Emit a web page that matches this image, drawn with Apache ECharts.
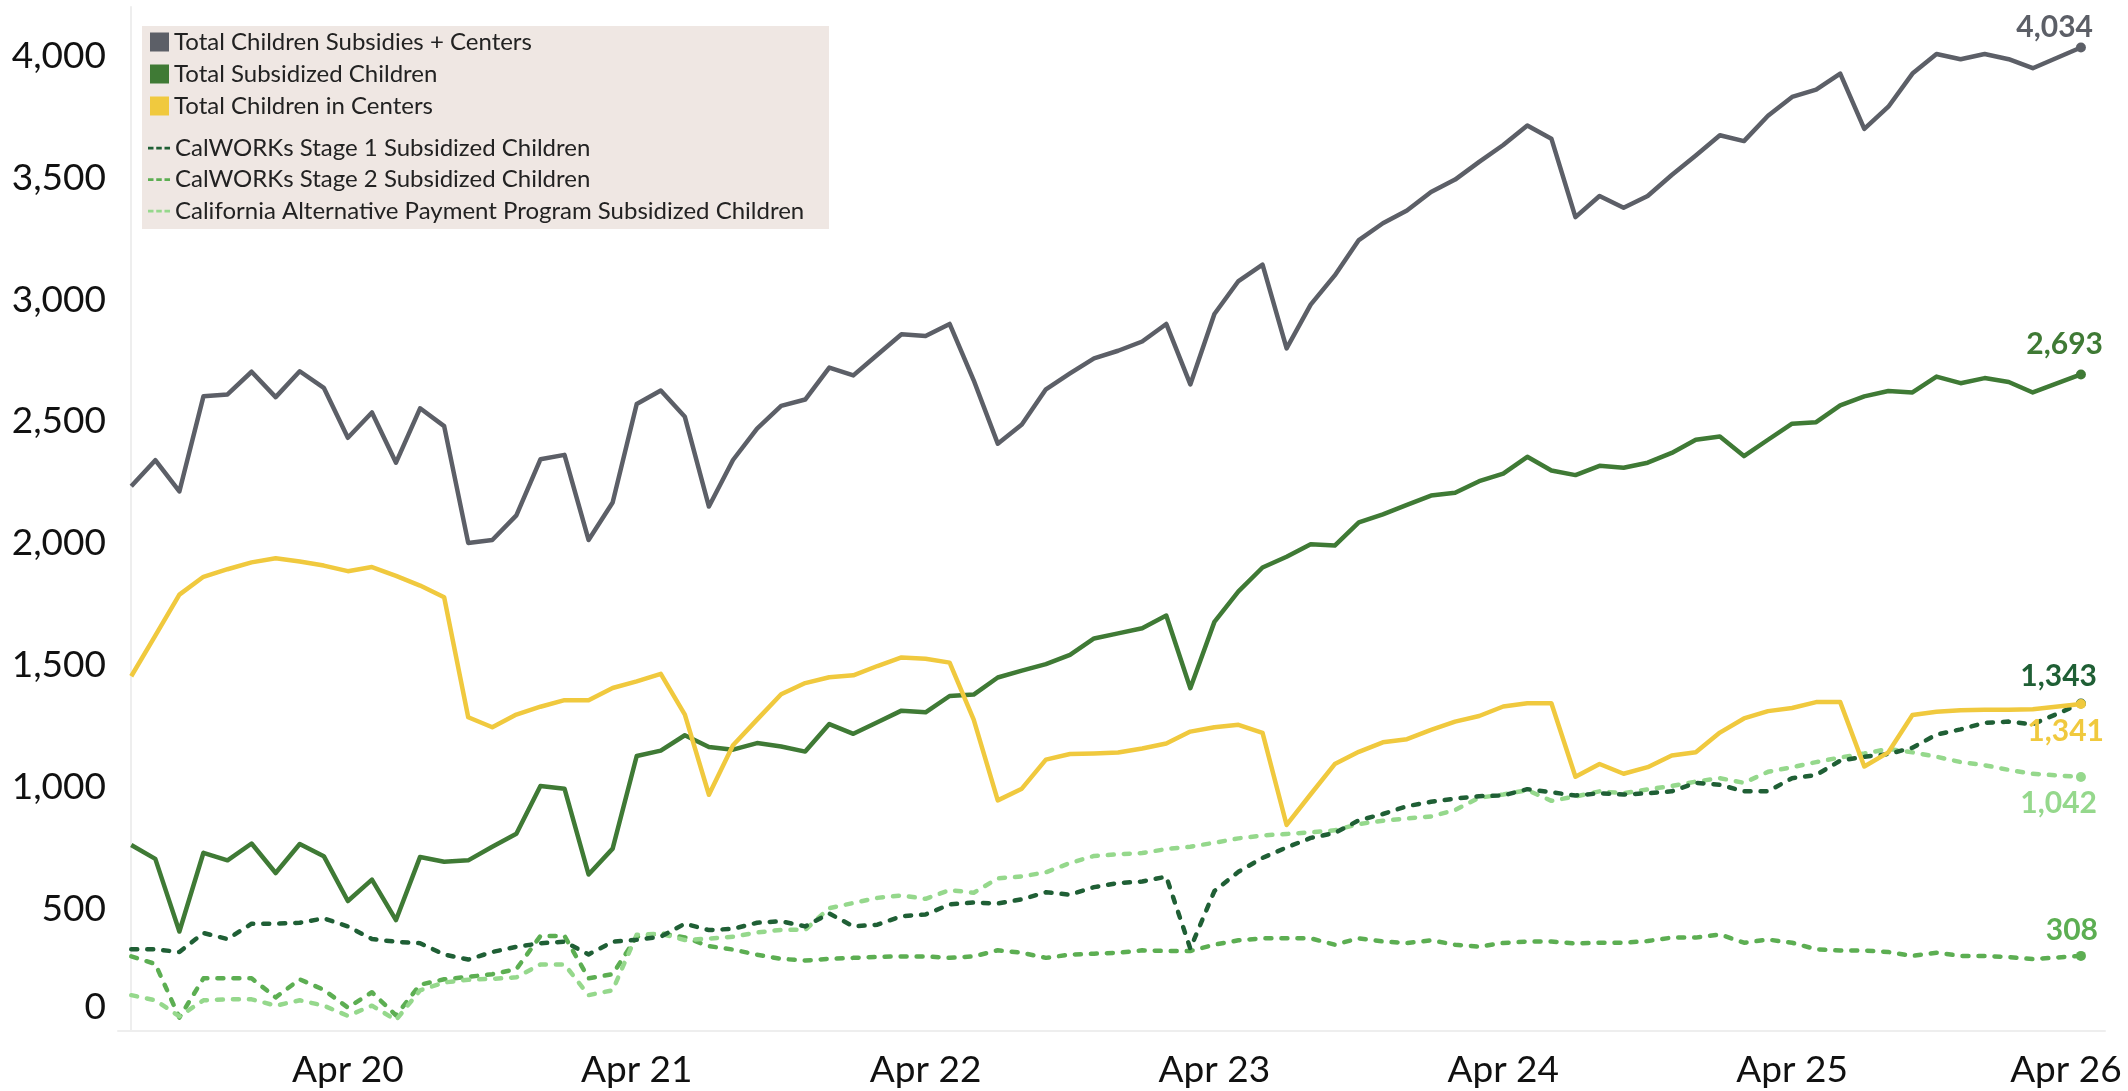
<!DOCTYPE html>
<html><head><meta charset="utf-8">
<script src="https://cdn.jsdelivr.net/npm/echarts@6/dist/echarts.min.js"></script>
<style>html,body{margin:0;padding:0;background:#fff}#c{width:2128px;height:1091px}</style>
</head><body><div id="c"></div>
<script>
// Months with data (March 2026 has no value)
const months = [
 '2019-07','2019-08','2019-09','2019-10','2019-11','2019-12',
 '2020-01','2020-02','2020-03','2020-04','2020-05','2020-06','2020-07','2020-08','2020-09','2020-10','2020-11','2020-12',
 '2021-01','2021-02','2021-03','2021-04','2021-05','2021-06','2021-07','2021-08','2021-09','2021-10','2021-11','2021-12',
 '2022-01','2022-02','2022-03','2022-04','2022-05','2022-06','2022-07','2022-08','2022-09','2022-10','2022-11','2022-12',
 '2023-01','2023-02','2023-03','2023-04','2023-05','2023-06','2023-07','2023-08','2023-09','2023-10','2023-11','2023-12',
 '2024-01','2024-02','2024-03','2024-04','2024-05','2024-06','2024-07','2024-08','2024-09','2024-10','2024-11','2024-12',
 '2025-01','2025-02','2025-03','2025-04','2025-05','2025-06','2025-07','2025-08','2025-09','2025-10','2025-11','2025-12',
 '2026-01','2026-02','2026-04'
];
const tickLabels = ['Apr 20','Apr 21','Apr 22','Apr 23','Apr 24','Apr 25','Apr 26'];

const totalAll = [
 2234,2341,2213,2603,2611,2704,
 2600,2706,2638,2433,2537,2331,2554,2481,2002,2014,2115,2345,
 2363,2014,2168,2572,2627,2519,2151,2342,2471,2564,2590,2721,
 2689,2774,2858,2851,2900,2669,2409,2488,2632,2697,2759,2790,
 2828,2900,2652,2941,3076,3143,2800,2979,3099,3244,3313,3365,
 3441,3492,3565,3634,3714,3660,3338,3425,3377,3425,3511,3591,
 3674,3650,3754,3831,3861,3927,3700,3791,3927,4007,3986,4007,
 3986,3949,4034
];
const totalSubsidized = [
 763,706,408,731,700,769,
 648,767,717,533,621,455,714,694,700,756,809,1005,
 994,642,748,1128,1150,1213,1165,1154,1181,1167,1146,1259,
 1219,1266,1314,1307,1374,1380,1450,1478,1505,1543,1610,1631,
 1652,1704,1406,1678,1803,1901,1945,1996,1991,2086,2119,2158,
 2196,2208,2255,2286,2355,2299,2280,2318,2310,2331,2371,2425,
 2438,2358,2425,2491,2497,2566,2603,2625,2619,2684,2657,2678,
 2662,2619,2693
];
const totalCenters = [
 1455,1622,1790,1863,1894,1922,
 1939,1926,1909,1886,1903,1867,1827,1779,1287,1246,1298,1330,
 1357,1357,1407,1434,1465,1298,969,1172,1277,1381,1427,1451,
 1459,1497,1532,1527,1511,1277,946,994,1113,1136,1138,1142,
 1159,1179,1228,1246,1256,1223,845,971,1095,1145,1184,1197,
 1235,1269,1292,1331,1344,1344,1043,1095,1055,1082,1130,1143,
 1224,1282,1312,1325,1349,1349,1085,1143,1296,1309,1316,1318,
 1318,1320,1341
];
const stage1 = [
 335,335,324,402,377,440,
 440,444,462,429,377,366,360,314,293,324,345,360,
 366,314,366,374,387,440,414,419,444,450,429,482,
 429,436,471,478,519,527,523,540,569,559,590,607,
 613,633,338,574,653,710,753,792,812,864,890,922,
 940,953,963,966,992,979,966,975,970,975,983,1018,
 1010,983,983,1037,1050,1109,1125,1136,1162,1216,1237,1264,
 1269,1258,1343
];
const stage2 = [
 306,275,55,216,216,216,
 138,212,169,96,159,64,190,212,222,233,254,390,
 390,216,233,387,401,384,348,334,313,296,289,296,
 300,304,306,306,300,306,331,321,300,313,317,321,
 331,328,328,354,372,380,380,380,354,380,367,361,
 372,354,346,361,367,367,359,362,362,369,383,383,
 396,362,375,362,335,330,330,324,308,321,308,308,
 303,295,308
];
const capp = [
 147,126,60,126,130,130,
 104,126,104,62,104,45,167,199,210,214,220,273,
 273,147,167,395,399,373,379,387,404,415,415,504,
 525,546,556,542,578,567,626,634,651,689,718,725,
 730,746,756,772,790,802,808,815,823,849,862,872,
 880,906,957,970,988,944,962,983,975,991,1005,1023,
 1037,1018,1063,1082,1103,1122,1138,1157,1143,1125,1103,1090,
 1071,1055,1042
];

const FONT = 'Lato';
const monthIdx = months.map(m => { const [y, mo] = m.split('-').map(Number); return (y - 2019) * 12 + mo - 7; });
const tickIdx = tickLabels.map(t => (2000 + Number(t.split(' ')[1]) - 2019) * 12 + 4 - 7);
const last = months.length - 1;
const fmt = v => v.toLocaleString('en-US');

function mk(name, arr, color, dashed, pos, z) {
  return {
    name, type: 'line', z,
    data: arr.map((v, i) => [monthIdx[i], v]),
    symbol: 'circle', showSymbol: true,
    symbolSize: (v, p) => p.dataIndex === last ? 10 : 0,
    itemStyle: { color },
    lineStyle: { color, width: 4.5, type: dashed ? [6, 10] : 'solid', cap: dashed ? 'round' : 'butt', join: 'round' },
    label: {
      show: true, position: pos, align: 'right', verticalAlign: 'middle',
      formatter: p => p.dataIndex === last ? fmt(p.value[1]) : '',
      color, fontFamily: FONT, fontWeight: 'bold', fontSize: 30
    },
    emphasis: { disabled: true }
  };
}

const chart = echarts.init(document.getElementById('c'), null, { renderer: 'canvas' });
chart.setOption({
  backgroundColor: '#ffffff',
  animation: false,
  grid: { left: 118, right: 23, top: 7, bottom: 60, containLabel: false },
  graphic: [{ type: 'rect', left: 142, top: 26, z: 0, silent: true, shape: { width: 687, height: 203 }, style: { fill: '#efe7e3' } }],
  legend: [
    { data: ['Total Children Subsidies + Centers', 'Total Subsidized Children', 'Total Children in Centers'],
      orient: 'vertical', left: 150, top: 30, itemGap: 8, itemWidth: 19, itemHeight: 19, icon: 'rect',
      selectedMode: false, padding: 0,
      textStyle: { fontFamily: FONT, fontSize: 24, color: '#222', lineHeight: 24 } },
    { data: ['CalWORKs Stage 1 Subsidized Children', 'CalWORKs Stage 2 Subsidized Children', 'California Alternative Payment Program Subsidized Children'],
      orient: 'vertical', left: 148, top: 136, itemGap: 7.5, itemWidth: 22, itemHeight: 4,
      icon: 'path://M0,0h4v2h-4z M6,0h4v2h-4z M12,0h4v2h-4z',
      selectedMode: false, padding: 0,
      textStyle: { fontFamily: FONT, fontSize: 24, color: '#222', lineHeight: 24 } }
  ],
  xAxis: {
    type: 'value', min: -0.55, max: 82,
    axisLine: { show: true, onZero: false, lineStyle: { color: '#eeeeee', width: 2 } },
    axisTick: { show: false }, splitLine: { show: false },
    axisLabel: {
      customValues: tickIdx, margin: 21,
      fontFamily: FONT, fontSize: 37, color: '#111',
      formatter: v => { const k = tickIdx.indexOf(v); const t = k >= 0 ? tickLabels[k] : ''; return k === tickIdx.length - 1 ? '{e|' + t + '}' : t; },
      rich: { e: { fontFamily: FONT, fontSize: 37, color: '#111', padding: [0, 30, 0, 0] } }
    }
  },
  yAxis: {
    type: 'value', min: 0, max: 4200, interval: 500,
    axisLine: { show: true, lineStyle: { color: '#eeeeee', width: 2 } },
    axisTick: { show: false }, splitLine: { show: false },
    axisLabel: {
      showMaxLabel: false, margin: 12,
      fontFamily: FONT, fontSize: 37, color: '#111',
      formatter: v => v === 0 ? '{z|0}' : fmt(v),
      rich: { z: { fontFamily: FONT, fontSize: 37, color: '#111', padding: [0, 0, 48, 0] } }
    }
  },
  series: [
    mk('CalWORKs Stage 2 Subsidized Children', stage2, '#5cae52', true, [22, -21], 2),
    mk('California Alternative Payment Program Subsidized Children', capp, '#95d88c', true, [21, 31], 3),
    mk('CalWORKs Stage 1 Subsidized Children', stage1, '#1f5f35', true, [21, -22], 4),
    mk('Total Subsidized Children', totalSubsidized, '#3f7a35', false, [27, -25], 5),
    mk('Total Children in Centers', totalCenters, '#f0c93e', false, [28, 32], 6),
    mk('Total Children Subsidies + Centers', totalAll, '#5c5f67', false, [17, -15], 7)
  ]
});
</script>
</body></html>
